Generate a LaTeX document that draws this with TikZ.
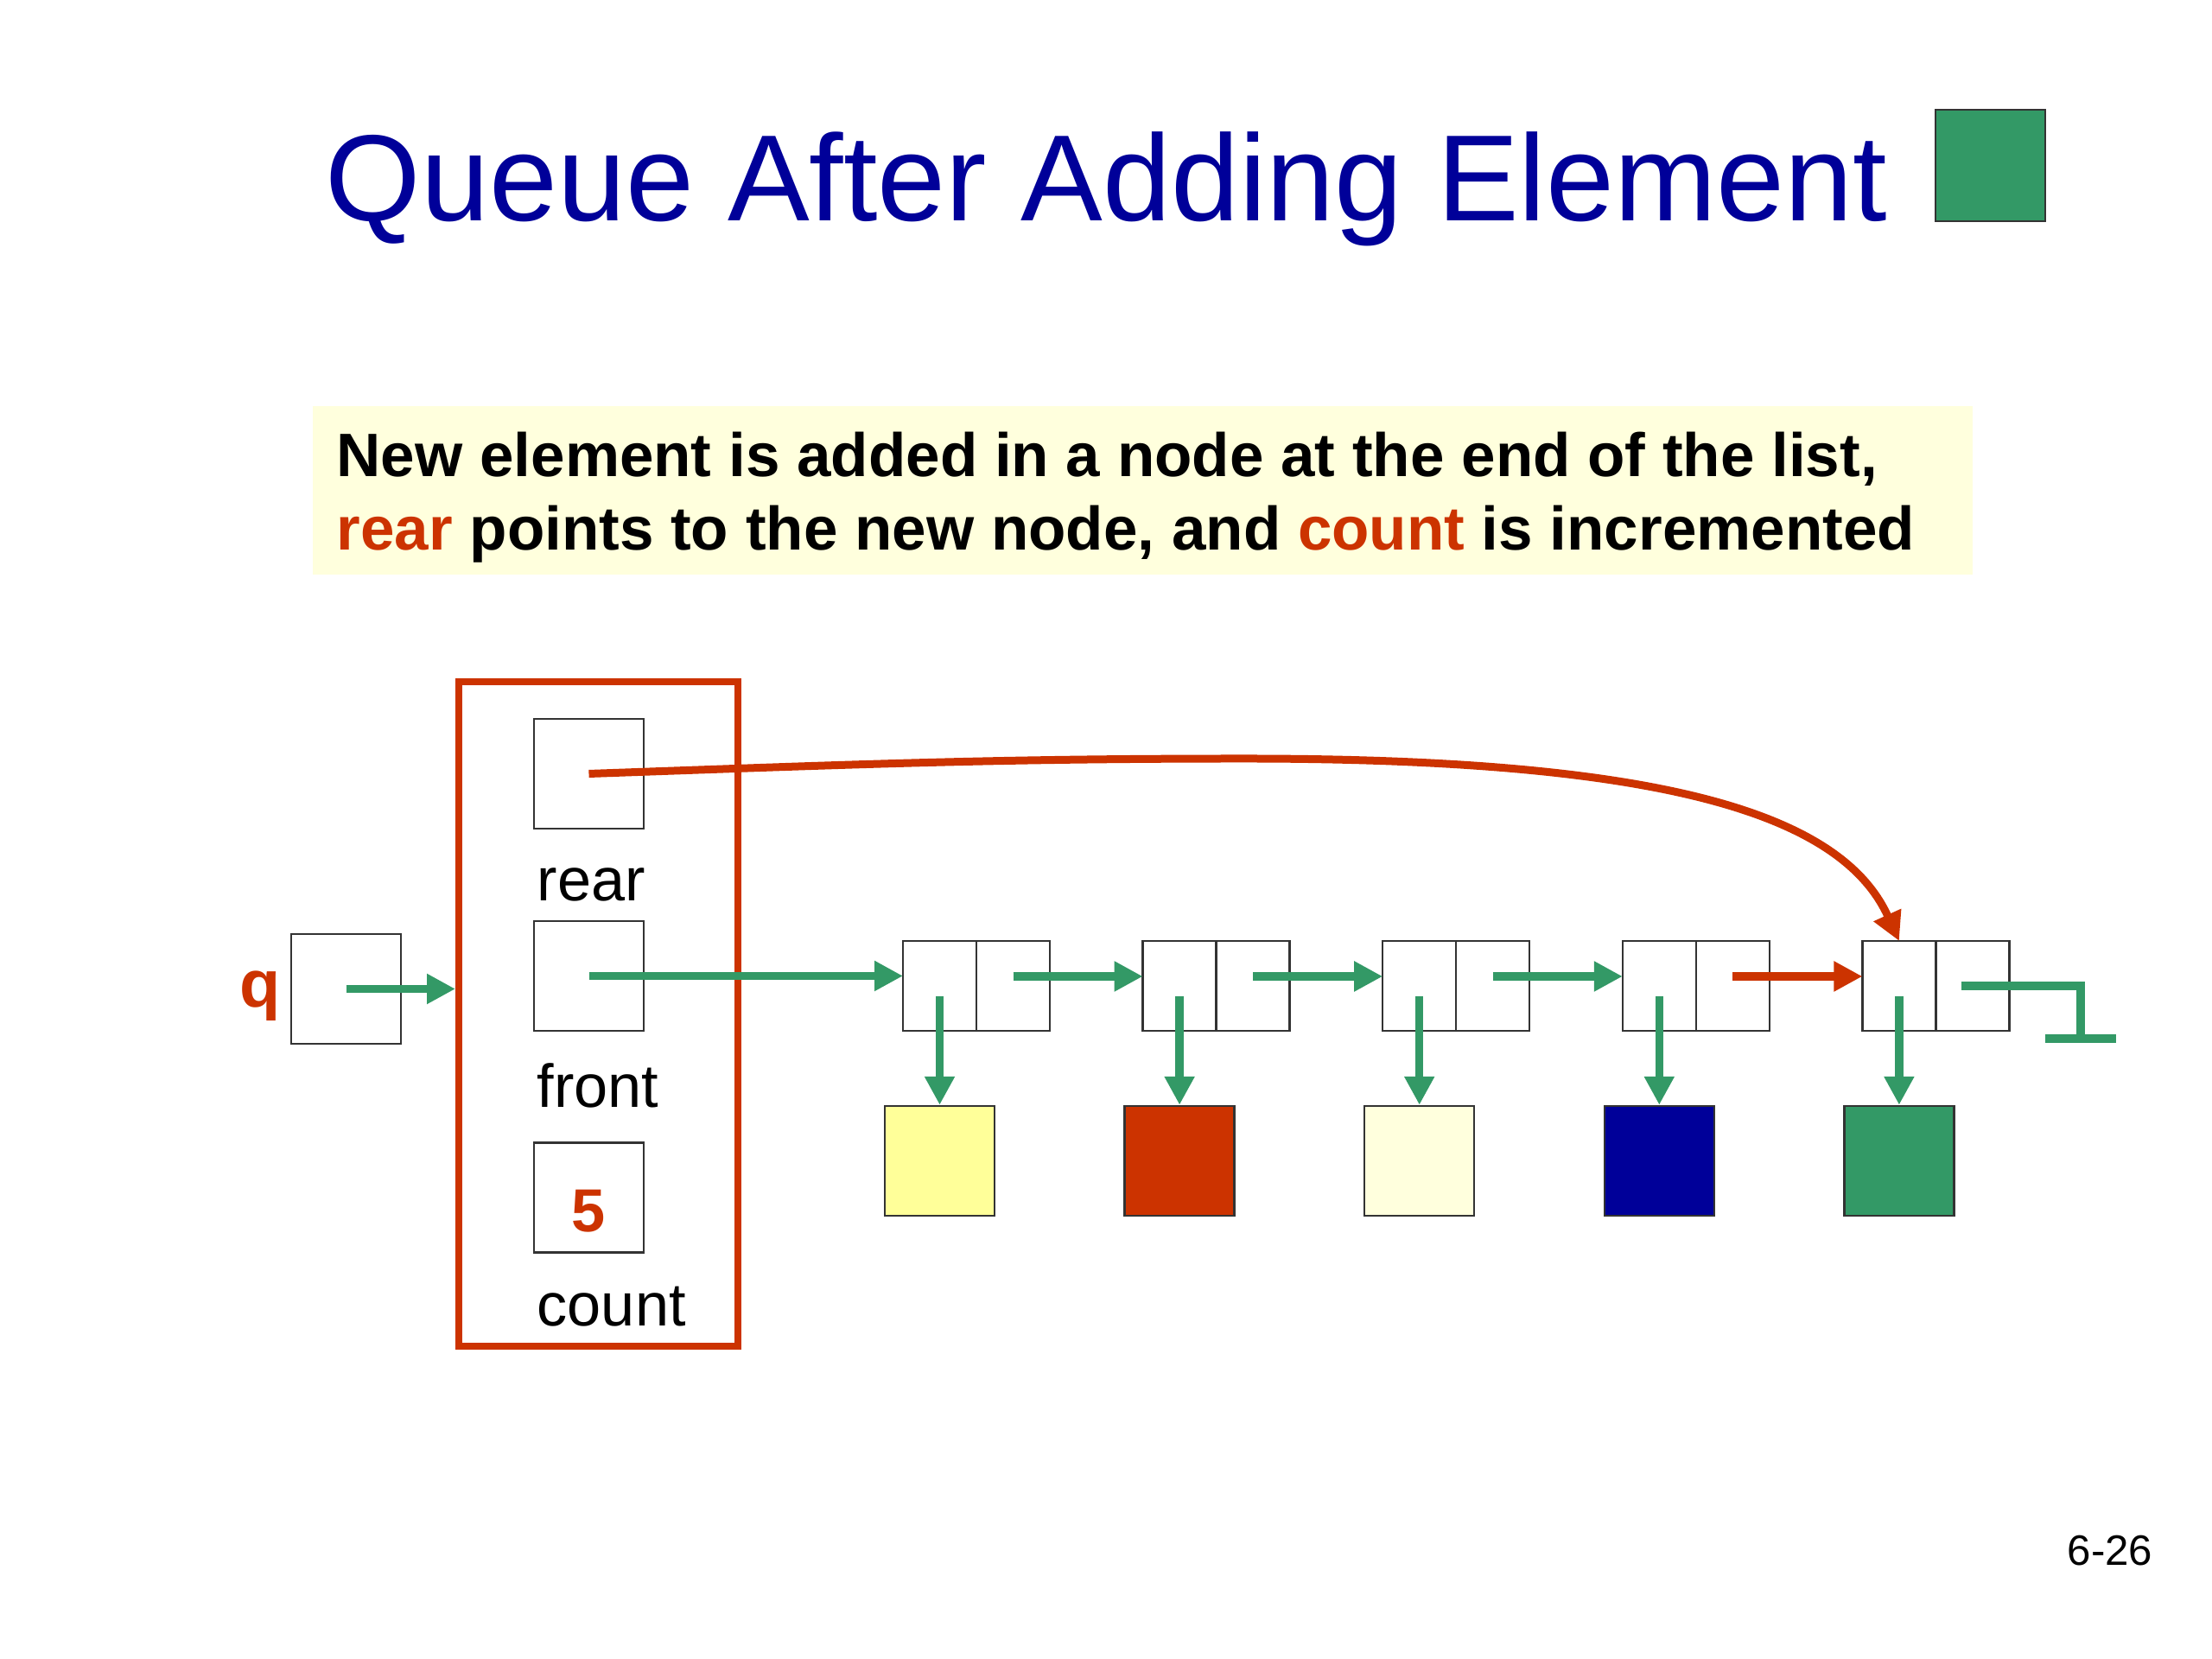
\documentclass[tikz,border=0pt]{standalone}
\usepackage{fontspec}
\setmainfont{Liberation Sans}
\usetikzlibrary{arrows.meta,calc,positioning}

\begin{document}
\begin{tikzpicture}[>={Triangle[length=0.33cm,width=0.33cm]},
  box/.style={draw=black!80,line width=0.7pt,minimum size=1.27cm,inner sep=0pt,outer sep=0pt},
  cell/.style={draw=black!80,line width=0.7pt,minimum width=0.85cm,minimum height=1.04cm,inner sep=0pt,outer sep=0pt},
  datum/.style={draw=black!80,line width=0.7pt,minimum size=1.27cm,inner sep=0pt},
  link/.style={->,qgreen,line width=0.095cm},
  tag/.style={anchor=base west,inner sep=0pt,font=\fontsize{20}{24}\selectfont}]
\definecolor{qgreen}{RGB}{51,153,102}
\definecolor{qred}{RGB}{204,51,0}
\definecolor{qblue}{RGB}{0,0,153}
\definecolor{qyellow}{RGB}{255,255,153}
\definecolor{qivory}{RGB}{255,255,221}

\useasboundingbox (0,0) rectangle (25.6,19.2);

% Slide title with the element just added.
\node[anchor=base west,inner sep=0pt,text=qblue,font=\fontsize{40.4}{48}\selectfont]
  (title) at (3.76,16.64) {Queue After Adding Element};
\node[draw=black!80,fill=qgreen,minimum width=1.27cm,minimum height=1.29cm,inner sep=0pt]
  (mark) at (23.035,17.285) {};

% Explanation band.
\fill[qivory] (3.62,12.55) rectangle (22.83,14.50);
\node[anchor=base west,inner sep=0pt,font=\bfseries\fontsize{20.2}{24}\selectfont]
  (line1) at (3.89,13.68) {New element is added in a node at the end of the list,};
\node[anchor=base west,inner sep=0pt,font=\bfseries\fontsize{20.2}{24}\selectfont]
  (line2) at (3.89,12.83) {\textcolor{qred}{rear} points to the new node, and \textcolor{qred}{count} is incremented};

% Queue object: reference q and the record with rear, front and count.
\node[box] (qbox) at (4.005,7.755) {};
\node[left=0.12cm of qbox,yshift=-0.08cm,inner sep=0pt,text=qred,font=\bfseries\fontsize{22}{26}\selectfont]
  (qname) {q};
\node[draw=qred,line width=0.08cm,minimum width=3.23cm,minimum height=7.69cm,inner sep=0pt]
  (queue) at (6.925,7.465) {};
\node[box] (rear) at (6.815,10.245) {};
\node[box] (front) at (6.815,7.905) {};
\node[box] (count) at (6.815,5.34) {};
\node[inner sep=0pt,text=qred,font=\bfseries\fontsize{20}{24}\selectfont]
  (countval) at ([yshift=-0.16cm]count.center) {5};
\node[tag] (rearlbl) at ($(rear.south west)+(0.03,-0.84)$) {rear};
\node[tag] (frontlbl) at ($(front.south west)+(0.03,-0.89)$) {front};
\node[tag] (countlbl) at ($(count.south west)+(0.03,-0.85)$) {count};
\draw[link] (qbox.center) -- (qbox.center -| queue.west);

% Linked list nodes and the elements they hold.
\foreach \i/\col in {1/qyellow,2/qred,3/qivory,4/qblue,5/qgreen}{
  \pgfmathsetmacro{\x}{10.875+2.776*(\i-1)}
  \node[cell] (elem\i) at (\x,7.79) {};
  \node[cell,right=0pt of elem\i] (next\i) {};
  \node[datum,fill=\col] (data\i) at (\x,5.765) {};
  \draw[link] ([yshift=-1.2mm]elem\i.center) -- (data\i.north);
}

\draw[link] (front.center) -- (front.center -| elem1.west);
\foreach \i [evaluate=\i as \j using int(\i+1)] in {1,2,3}
  \draw[link] ([yshift=1.1mm]next\i.center) -- ([yshift=1.1mm]elem\j.west);
\draw[link,qred] ([yshift=1.1mm]next4.center) -- ([yshift=1.1mm]elem5.west);

% Null link after the last node.
\coordinate (nullend) at (24.08,7.18);
\draw[qgreen,line width=0.095cm] ([xshift=-1.3mm]next5.center) -| (nullend);
\draw[qgreen,line width=0.095cm] ([xshift=-0.41cm]nullend) -- ([xshift=0.41cm]nullend);

% rear now points to the new node.
\coordinate (crest) at (14.4,10.42);
\draw[->,qred,line width=0.09cm] (rear.center) to[out=2,in=180] (crest)
  .. controls (19.2,10.42) and (21.3,9.8) .. (elem5.north);

\node[anchor=base west,inner sep=0pt,font=\fontsize{14}{17}\selectfont]
  (page) at (23.92,1.08) {6-26};
\end{tikzpicture}
\end{document}
